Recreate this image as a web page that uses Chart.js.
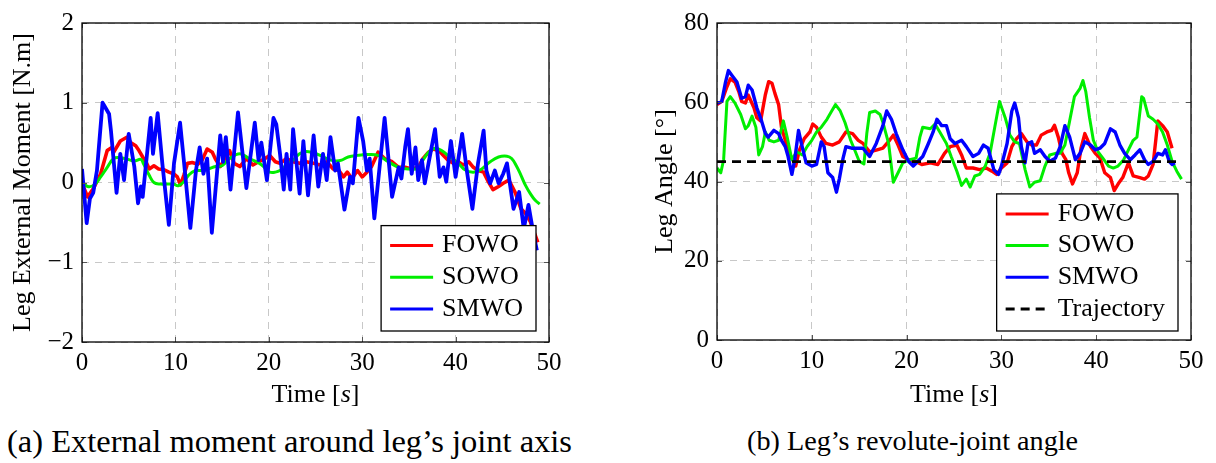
<!DOCTYPE html>
<html>
<head>
<meta charset="utf-8">
<script src="https://cdn.jsdelivr.net/npm/chart.js@4.4.1/dist/chart.umd.min.js"></script>
<style>
  body { margin: 0; background: #fff; width: 1216px; height: 463px; position: relative; overflow: hidden; font-family: "Liberation Serif", serif; }
  canvas { position: absolute; top: 0; }
  #momentChart { left: 0; }
  #angleChart { left: 620px; }
  .caption { position: absolute; top: 423px; line-height: 36px; white-space: nowrap; color: #000; }
</style>
</head>
<body>
<canvas id="momentChart" width="600" height="420"></canvas>
<canvas id="angleChart" width="596" height="420"></canvas>
<div class="caption" style="left:7px; font-size:32.5px">(a) External moment around leg’s joint axis</div>
<div class="caption" style="left:747px; font-size:28.2px">(b) Leg’s revolute-joint angle</div>
<script>
// ---- (a) external moment [N.m] ----
const tFowoM = [0, 0.6, 1.2, 2.0, 2.7, 3.2, 3.4, 4.1, 4.85, 5.2, 5.75, 6.1, 6.5, 6.85, 7.2, 7.7, 8.2, 8.8, 9.3, 9.8, 10.2, 10.55, 10.9, 11.3, 11.8, 12.4, 12.9, 13.4, 13.95, 14.3, 14.8, 15.8, 16.3, 16.9, 17.6, 18.3, 18.9, 19.6, 20.1, 20.7, 21.2, 21.9, 22.6, 23.3, 24.0, 24.8, 25.5, 26.2, 26.9, 27.5, 28.0, 28.4, 28.9, 29.5, 30.0, 30.5, 31.0, 31.7, 32.4, 33.2, 33.9, 34.6, 35.3, 36.0, 36.5, 37.1, 37.6, 38.2, 38.7, 39.2, 39.8, 40.3, 40.8, 41.4, 41.9, 42.4, 43.0, 43.5, 44.0, 44.6, 45.1, 45.7, 46.4, 47.0, 47.5, 48.0, 48.8];
const fowoMoment = [-0.01, -0.18, -0.08, 0.11, 0.40, 0.44, 0.38, 0.52, 0.57, 0.50, 0.46, 0.40, 0.32, 0.26, 0.17, 0.21, 0.17, 0.16, 0.13, 0.11, 0.07, -0.03, 0.09, 0.24, 0.25, 0.23, 0.29, 0.42, 0.38, 0.29, 0.20, 0.40, 0.24, 0.20, 0.30, 0.22, 0.26, 0.30, 0.34, 0.26, 0.24, 0.30, 0.26, 0.24, 0.26, 0.24, 0.22, 0.26, 0.17, 0.15, 0.07, 0.13, 0.05, 0.15, 0.07, 0.13, 0.20, 0.38, 0.30, 0.26, 0.19, 0.19, 0.17, 0.19, 0.30, 0.38, 0.42, 0.40, 0.34, 0.28, 0.24, 0.26, 0.22, 0.26, 0.19, 0.15, 0.13, 0.01, -0.09, -0.05, -0.01, 0.03, -0.13, -0.33, -0.39, -0.49, -0.75];

const tSowoM = [0, 0.6, 1.3, 2.0, 2.7, 3.4, 4.1, 4.9, 5.6, 6.3, 6.6, 7.2, 7.7, 8.4, 9.1, 9.8, 10.3, 10.9, 11.4, 12.1, 12.8, 13.5, 14.3, 15.0, 15.8, 16.9, 17.9, 19.0, 19.7, 20.1, 20.7, 21.2, 21.9, 22.6, 23.3, 24.0, 24.8, 25.5, 26.2, 27.1, 27.8, 28.5, 29.5, 30.5, 31.7, 32.8, 33.9, 34.9, 36.0, 36.5, 37.1, 37.8, 38.5, 39.4, 40.3, 41.0, 41.9, 42.8, 43.7, 44.6, 45.5, 46.0, 46.5, 47.0, 47.5, 48.0, 48.5, 49.0];
const sowoMoment = [0.01, -0.05, -0.03, 0.07, 0.19, 0.30, 0.31, 0.29, 0.27, 0.29, 0.23, 0.09, 0.0, -0.02, -0.02, -0.02, -0.04, 0.01, 0.09, 0.15, 0.15, 0.17, 0.20, 0.21, 0.30, 0.36, 0.30, 0.24, 0.17, 0.13, 0.13, 0.15, 0.22, 0.28, 0.36, 0.39, 0.37, 0.34, 0.30, 0.27, 0.28, 0.32, 0.34, 0.35, 0.34, 0.26, 0.19, 0.17, 0.18, 0.28, 0.38, 0.43, 0.40, 0.32, 0.24, 0.16, 0.13, 0.17, 0.26, 0.32, 0.33, 0.30, 0.21, 0.09, -0.04, -0.14, -0.22, -0.27];

const tSmwoM = [0, 0.5, 0.85, 1.2, 1.6, 2.2, 2.5, 2.9, 3.1, 3.7, 4.1, 4.5, 5.0, 5.6, 6.0, 6.3, 6.5, 7.35, 7.6, 8.1, 8.6, 9.3, 9.85, 10.5, 10.9, 11.6, 12.2, 12.6, 13.0, 13.4, 13.9, 14.8, 15.1, 15.4, 15.9, 16.7, 17.6, 18.5, 18.9, 19.2, 19.8, 20.5, 20.8, 21.2, 21.6, 21.9, 22.3, 22.6, 23.3, 23.7, 24.0, 24.2, 24.8, 25.3, 25.8, 26.2, 26.6, 27.1, 27.4, 28.1, 28.7, 29.0, 29.6, 30.1, 30.5, 30.8, 31.3, 32.4, 33.2, 33.9, 34.2, 34.6, 34.9, 35.3, 35.7, 36.0, 36.4, 36.7, 37.1, 37.8, 38.3, 38.7, 39.0, 39.5, 40.0, 40.7, 41.2, 41.8, 42.4, 43.0, 43.3, 43.7, 44.2, 44.6, 45.1, 45.5, 46.2, 46.8, 47.3, 47.8, 48.3, 48.7];
const smwoMoment = [0.17, -0.51, -0.20, -0.13, 0.15, 1.0, 0.94, 0.86, 0.65, -0.13, 0.36, 0.03, 0.61, 0.20, -0.26, -0.05, -0.18, 0.81, 0.36, 0.87, 0.24, -0.53, 0.24, 0.75, 0.28, -0.57, 0.15, 0.44, 0.11, 0.30, -0.63, 0.59, 0.26, 0.57, -0.09, 0.88, -0.07, 0.75, 0.28, 0.50, 0.03, 0.81, 0.73, 0.36, -0.09, 0.36, -0.09, 0.67, -0.14, 0.52, 0.11, -0.16, 0.59, -0.05, 0.36, 0.03, 0.57, 0.15, 0.24, -0.34, 0.07, -0.01, 0.81, 0.52, 0.15, 0.30, -0.45, 0.81, -0.18, 0.19, 0.05, 0.44, 0.67, 0.11, 0.44, 0.03, 0.28, -0.01, 0.24, 0.67, 0.07, 0.19, 0.01, 0.52, 0.07, 0.61, 0.15, -0.33, 0.24, 0.65, 0.15, -0.01, 0.15, -0.01, 0.11, 0.24, -0.33, -0.12, -0.58, -0.28, -0.62, -0.85];

// ---- (b) leg angle [deg] ----
const tFowoA = [0, 0.5, 1.05, 1.4, 1.9, 2.3, 2.6, 3.0, 3.3, 3.9, 4.2, 4.6, 5.1, 5.45, 5.8, 6.1, 6.5, 6.8, 7.2, 7.5, 8.0, 8.3, 8.7, 9.2, 9.8, 10.1, 10.5, 11.0, 11.5, 12.2, 12.9, 13.6, 14.3, 14.9, 15.4, 16.1, 16.8, 17.5, 18.2, 18.6, 19.1, 19.6, 20.2, 20.9, 21.6, 22.5, 23.3, 24.0, 24.6, 25.3, 25.8, 26.3, 27.0, 27.7, 28.4, 29.0, 29.5, 30.0, 30.6, 31.1, 31.6, 32.1, 32.7, 33.2, 33.7, 34.2, 34.8, 35.3, 35.6, 36.0, 36.4, 36.8, 37.1, 37.5, 38.0, 38.4, 38.8, 39.4, 39.9, 40.4, 40.9, 41.5, 41.9, 42.4, 42.8, 43.4, 43.9, 44.6, 45.1, 45.5, 46.0, 46.3, 46.5, 47.0, 47.5, 48.0];
const fowoAngle = [59.4, 60.2, 63.9, 65.9, 65.1, 62.7, 60.2, 59.8, 61.8, 58.6, 56.1, 55.3, 61.9, 65.2, 64.8, 62.3, 59.4, 53.7, 50.4, 47.1, 45.5, 43.9, 48.0, 50.8, 52.5, 54.5, 53.7, 51.2, 49.6, 49.2, 50.0, 52.5, 52.1, 50.4, 49.6, 47.5, 47.9, 48.4, 50.4, 51.7, 49.2, 46.3, 45.5, 45.1, 44.3, 44.7, 44.3, 47.1, 48.8, 49.2, 46.7, 43.4, 43.4, 43.0, 43.4, 42.6, 41.8, 43.4, 44.7, 48.8, 50.8, 52.1, 50.0, 49.2, 49.2, 51.7, 52.5, 52.9, 54.2, 51.2, 47.1, 45.5, 42.2, 39.4, 42.2, 48.4, 52.1, 48.8, 47.1, 45.9, 42.2, 41.0, 37.7, 39.7, 41.0, 44.7, 41.4, 41.0, 40.6, 41.4, 44.3, 50.8, 55.3, 54.1, 52.5, 48.4];

const tSowoA = [0, 0.4, 0.7, 1.05, 1.4, 1.9, 2.5, 3.0, 3.3, 3.7, 4.1, 4.4, 4.8, 5.1, 5.5, 6.0, 6.5, 7.0, 7.4, 7.9, 8.4, 9.0, 9.5, 10.0, 10.5, 11.0, 11.6, 12.1, 12.5, 13.0, 13.5, 14.1, 14.6, 15.0, 15.5, 15.8, 16.1, 16.7, 17.2, 17.5, 18.1, 18.6, 19.1, 19.6, 20.3, 21.0, 21.4, 21.7, 22.5, 23.0, 23.5, 24.2, 24.7, 25.3, 25.8, 26.3, 26.7, 27.2, 27.7, 28.3, 28.8, 29.3, 29.8, 30.4, 30.9, 31.4, 31.9, 32.5, 33.0, 33.5, 34.1, 34.6, 35.1, 35.7, 36.2, 36.7, 37.2, 37.7, 38.3, 38.6, 38.9, 39.3, 39.7, 40.2, 40.7, 41.3, 41.8, 42.3, 42.9, 43.4, 43.9, 44.3, 44.8, 45.0, 45.5, 46.0, 46.5, 47.0, 47.5, 48.0, 48.5, 49.0];
const sowoAngle = [43.4, 42.2, 45.5, 60.2, 61.4, 59.8, 56.9, 53.3, 54.1, 56.5, 53.7, 46.7, 48.8, 52.5, 50.4, 50.0, 50.4, 55.3, 51.2, 45.5, 47.5, 46.7, 48.8, 50.4, 52.5, 53.7, 55.7, 57.8, 59.4, 57.8, 54.9, 50.4, 47.5, 45.1, 44.4, 52.1, 57.4, 57.8, 56.9, 54.9, 49.6, 39.8, 42.2, 44.7, 45.5, 45.9, 51.2, 53.7, 53.3, 54.5, 52.5, 49.6, 46.3, 42.6, 39.0, 40.6, 38.6, 41.4, 41.8, 43.9, 47.1, 53.7, 60.2, 56.1, 51.7, 50.0, 49.6, 43.0, 38.6, 39.8, 40.2, 43.9, 46.7, 47.1, 47.1, 49.2, 55.3, 61.4, 63.5, 65.5, 62.7, 56.1, 50.4, 47.5, 45.9, 43.9, 43.4, 43.9, 45.5, 48.0, 50.4, 51.2, 61.4, 61.0, 56.5, 55.7, 54.5, 52.5, 49.2, 45.1, 42.6, 40.6];

const tSmwoA = [0, 0.5, 0.9, 1.2, 1.6, 2.1, 2.6, 3.0, 3.3, 3.7, 4.2, 4.7, 5.1, 5.4, 6.0, 6.5, 6.8, 7.2, 7.5, 7.9, 8.2, 8.6, 8.9, 9.4, 10.0, 10.5, 11.0, 11.3, 11.7, 12.2, 12.6, 12.9, 13.3, 13.6, 14.2, 14.7, 15.4, 16.1, 16.8, 17.5, 17.9, 18.4, 18.9, 19.6, 20.2, 20.7, 21.2, 21.7, 22.3, 22.8, 23.2, 23.7, 24.2, 24.6, 25.1, 25.8, 26.3, 27.0, 27.6, 28.1, 28.6, 29.2, 29.7, 30.0, 30.6, 31.1, 31.4, 31.8, 32.1, 32.5, 32.8, 33.2, 33.5, 34.1, 34.6, 35.1, 35.7, 36.2, 36.7, 37.2, 37.8, 38.3, 38.8, 39.4, 39.9, 40.4, 40.9, 41.5, 42.0, 42.5, 43.0, 43.6, 44.1, 44.6, 45.1, 45.5, 46.0, 46.5, 47.0, 47.3, 47.7, 48.0, 48.3];
const smwoAngle = [59.8, 60.2, 65.1, 68.0, 66.7, 65.1, 61.0, 61.4, 64.3, 63.1, 58.6, 55.3, 52.1, 51.2, 52.9, 52.1, 50.4, 48.8, 46.3, 41.8, 45.5, 52.9, 49.6, 44.7, 43.9, 44.3, 50.0, 48.8, 42.2, 41.0, 37.3, 40.6, 45.9, 48.8, 48.4, 48.4, 48.4, 46.3, 49.6, 54.1, 57.8, 55.7, 52.1, 48.0, 45.1, 43.9, 45.1, 46.3, 49.6, 52.5, 55.7, 54.1, 54.1, 50.8, 49.6, 50.4, 48.8, 46.3, 47.1, 49.2, 48.4, 43.0, 41.8, 43.9, 49.6, 57.8, 59.8, 56.1, 48.8, 44.7, 49.6, 50.0, 47.1, 48.0, 46.3, 45.1, 45.9, 48.8, 54.1, 51.2, 45.5, 47.1, 50.0, 49.2, 48.0, 48.4, 49.6, 53.3, 52.5, 49.2, 47.1, 45.5, 46.7, 48.0, 45.5, 44.3, 45.1, 47.1, 46.7, 48.0, 45.1, 44.3, 44.7];

const tTrajectory = [0, 48.5];
const trajectoryAngle = [45, 45];

const FONT = '"Liberation Serif", "Times New Roman", serif';
Chart.defaults.font.family = FONT;
Chart.defaults.color = '#000';

function pts(ts, vs) {
  return ts.map((t, i) => ({ x: t, y: vs[i] }));
}

function minusLabel(v) {
  return v < 0 ? '\u2212' + Math.abs(v) : '' + v;
}

// box frame, inward ticks, boxed legend and "Time [s]" title
const framePlugin = {
  id: 'frame',
  afterDatasetsDraw(chart, args, opts) {
    const { ctx, chartArea: a, scales } = chart;
    ctx.save();

    ctx.strokeStyle = '#555';
    ctx.lineWidth = 1;
    ctx.beginPath();
    scales.x.ticks.forEach((tk) => {
      const px = Math.round(scales.x.getPixelForValue(tk.value)) + 0.5;
      ctx.moveTo(px, a.bottom); ctx.lineTo(px, a.bottom - 5);
      ctx.moveTo(px, a.top); ctx.lineTo(px, a.top + 5);
    });
    scales.y.ticks.forEach((tk) => {
      const py = Math.round(scales.y.getPixelForValue(tk.value)) + 0.5;
      ctx.moveTo(a.left, py); ctx.lineTo(a.left + 5, py);
      ctx.moveTo(a.right, py); ctx.lineTo(a.right - 5, py);
    });
    ctx.stroke();

    ctx.strokeStyle = '#000';
    ctx.lineWidth = 1.3;
    ctx.strokeRect(a.left, a.top, a.right - a.left, a.bottom - a.top);

    // legend
    const sets = chart.data.datasets;
    ctx.font = '26px ' + FONT;
    let tw = 0;
    sets.forEach((d) => { tw = Math.max(tw, ctx.measureText(d.label).width); });
    const rowH = 31.7;
    const w = 61 + tw + 13;
    const h = 20 + (sets.length - 1) * rowH + 22;
    const bx = a.right - opts.inset - w;
    const by = a.bottom - opts.insetBottom - h;
    ctx.fillStyle = '#fff';
    ctx.fillRect(bx, by, w, h);
    ctx.lineWidth = 1.3;
    ctx.strokeRect(bx, by, w, h);
    sets.forEach((d, i) => {
      const y = by + 20 + i * rowH;
      ctx.strokeStyle = d.borderColor;
      ctx.lineWidth = 3;
      ctx.setLineDash(d.borderDash || []);
      ctx.beginPath();
      ctx.moveTo(bx + 9, y);
      ctx.lineTo(bx + 52, y);
      ctx.stroke();
      ctx.setLineDash([]);
      ctx.fillStyle = '#000';
      ctx.textBaseline = 'middle';
      ctx.fillText(d.label, bx + 61, y);
    });

    // x title with italic s
    const parts = [['Time [', '26px '], ['s', 'italic 26px '], [']', '26px ']];
    let total = 0;
    parts.forEach((p) => { ctx.font = p[1] + FONT; total += ctx.measureText(p[0]).width; });
    let x = (a.left + a.right) / 2 - total / 2;
    ctx.textBaseline = 'middle';
    ctx.fillStyle = '#000';
    parts.forEach((p) => {
      ctx.font = p[1] + FONT;
      ctx.fillText(p[0], x, opts.titleY);
      x += ctx.measureText(p[0]).width;
    });
    ctx.restore();
  },
};

function axisOptions(xMin, xMax, yMin, yMax, yStep, yTitle, yTitlePad, yWidth, xHeight) {
  return {
    x: {
      type: 'linear',
      min: xMin,
      max: xMax,
      grid: { color: '#c8c8c8', lineWidth: 1, drawTicks: false },
      border: { display: false, dash: [7, 6] },
      ticks: { stepSize: 10, padding: 6, font: { size: 25 }, maxRotation: 0 },
      afterFit: (s) => { s.height = xHeight; },
    },
    y: {
      min: yMin,
      max: yMax,
      grid: { color: '#c8c8c8', lineWidth: 1, drawTicks: false },
      border: { display: false, dash: [7, 6] },
      ticks: { stepSize: yStep, padding: 8, font: { size: 25 }, callback: minusLabel },
      title: { display: true, text: yTitle, font: { size: 26 }, padding: { top: yTitlePad, bottom: 0 } },
      afterFit: (s) => { s.width = yWidth; },
    },
  };
}

new Chart(document.getElementById('momentChart'), {
  type: 'line',
  data: {
    datasets: [
      { label: 'FOWO', data: pts(tFowoM, fowoMoment), borderColor: '#ff0000', borderWidth: 3.6, order: 3 },
      { label: 'SOWO', data: pts(tSowoM, sowoMoment), borderColor: '#00ee00', borderWidth: 3, tension: 0.4, order: 2 },
      { label: 'SMWO', data: pts(tSmwoM, smwoMoment), borderColor: '#0000ff', borderWidth: 3.8, order: 1 },
    ],
  },
  options: {
    responsive: false,
    animation: false,
    events: [],
    elements: { point: { radius: 0 }, line: { borderJoinStyle: 'round' } },
    layout: { padding: { top: 20, right: 51, left: 0, bottom: 0 } },
    plugins: {
      legend: { display: false },
      tooltip: { enabled: false },
      frame: { inset: 13, insetBottom: 11, titleY: 395 },
    },
    scales: axisOptions(0, 50, -2, 2, 1, 'Leg External Moment [N.m]', 8, 82, 78),
  },
  plugins: [framePlugin],
});

new Chart(document.getElementById('angleChart'), {
  type: 'line',
  data: {
    datasets: [
      { label: 'FOWO', data: pts(tFowoA, fowoAngle), borderColor: '#ff0000', borderWidth: 3.4, order: 4 },
      { label: 'SOWO', data: pts(tSowoA, sowoAngle), borderColor: '#00ee00', borderWidth: 3, order: 3 },
      { label: 'SMWO', data: pts(tSmwoA, smwoAngle), borderColor: '#0000ff', borderWidth: 3.4, order: 2 },
      { label: 'Trajectory', data: pts(tTrajectory, trajectoryAngle), borderColor: '#000000', borderWidth: 2.8, borderDash: [9, 6], order: 1 },
    ],
  },
  options: {
    responsive: false,
    animation: false,
    events: [],
    elements: { point: { radius: 0 }, line: { borderJoinStyle: 'round' } },
    layout: { padding: { top: 15, right: 25, left: 0, bottom: 0 } },
    plugins: {
      legend: { display: false },
      tooltip: { enabled: false },
      frame: { inset: 13, insetBottom: 9, titleY: 395 },
    },
    scales: axisOptions(0, 50, 0, 80, 20, 'Leg Angle [°]', 30, 97, 80),
  },
  plugins: [framePlugin],
});
</script>
</body>
</html>
